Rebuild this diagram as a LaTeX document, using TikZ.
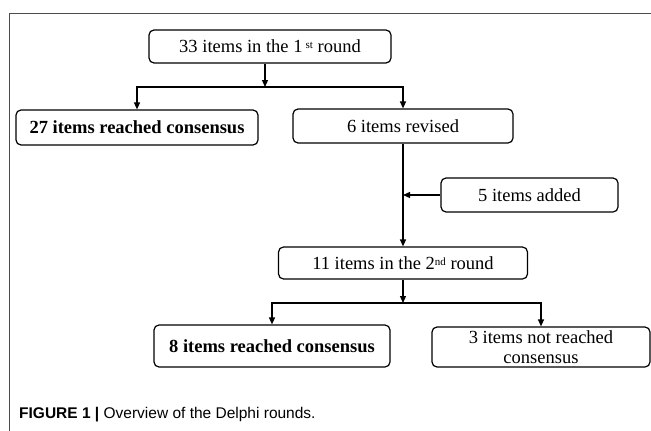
\documentclass[tikz,border=0pt]{standalone}
\usepackage{fontspec}
\setmainfont{Liberation Serif}
\newfontfamily\capfont{Liberation Sans}
\usetikzlibrary{arrows.meta}
\newcommand{\hochst}[1]{\raisebox{0.5ex}{\fontsize{11}{11}\selectfont #1}}
\begin{document}
\begin{tikzpicture}[x=1pt,y=-1pt]
\tikzset{itembox/.style={draw, rounded corners=5pt, line width=1.2pt, inner sep=0pt, align=center, font=\fontsize{18.5}{20}\selectfont}}
\tikzset{pfeil/.style={-{Triangle[length=7pt,width=6pt]}, line width=1.2pt}}
\useasboundingbox (0,0) rectangle (651,431);
\draw[black!70, line width=0.8pt] (651,13) -- (9,13) -- (9,431);
\node[itembox, minimum width=242pt, minimum height=33pt] (R1) at (270,46.5) {33 items in the 1\,\hochst{st} round};
\node[itembox, minimum width=242pt, minimum height=35pt, font=\fontsize{18.5}{20}\selectfont\bfseries] (A1) at (137,127.5) {27 items reached consensus};
\node[itembox, minimum width=220pt, minimum height=34pt] (R3) at (403,126) {6 items revised};
\node[itembox, minimum width=177pt, minimum height=34pt] (ADD) at (529.5,195) {5 items added};
\node[itembox, minimum width=249pt, minimum height=32pt] (R2) at (403,263) {11 items in the 2\hochst{nd} round};
\node[itembox, minimum width=236pt, minimum height=42pt, font=\fontsize{18.5}{20}\selectfont\bfseries] (A2) at (272,346) {8 items reached consensus};
\node[itembox, minimum width=218pt, minimum height=40pt] (NA) at (541,347) {3 items not reached\\consensus};
\coordinate (J1) at (265,87);
\coordinate (J2) at (403,303);
\draw[pfeil] (R1.south -| J1) -- (J1);
\draw[pfeil] (J1) -| (A1);
\draw[pfeil] (J1) -| (R3);
\draw[pfeil] (R3) -- (R2);
\draw[pfeil] (ADD.west) -- (ADD.west -| R3);
\draw[pfeil] (R2) -- (J2);
\draw[pfeil] (J2) -| (A2);
\draw[pfeil] (J2) -| (NA);
\node[anchor=west, inner sep=0pt, font=\capfont\fontsize{15.5}{18}\selectfont] (CAP) at (19,415) {\textbf{FIGURE 1 |} Overview of the Delphi rounds.};
\end{tikzpicture}
\end{document}
